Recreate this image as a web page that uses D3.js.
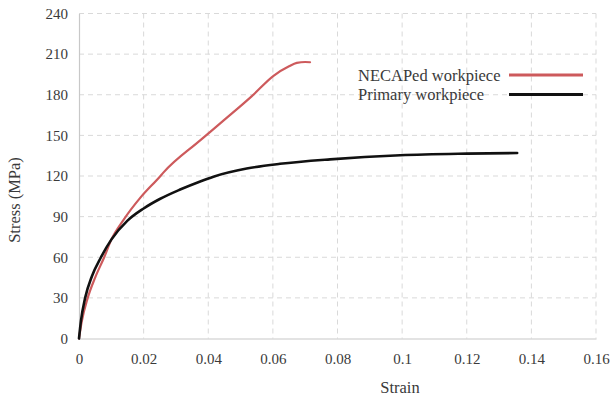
<!DOCTYPE html>
<html>
<head>
<meta charset="utf-8">
<script src="https://cdn.jsdelivr.net/npm/d3@7"></script>
<style>
  body { margin: 0; background: #fff; }
</style>
</head>
<body>
<svg id="chart" width="611" height="399"></svg>
<script>
// strain / stress (MPa)
const necapedStrain = [0, 0.0008, 0.0027, 0.005, 0.0078, 0.0100, 0.0139, 0.019, 0.025, 0.0261, 0.0375, 0.0455, 0.0535, 0.0602, 0.065, 0.0674, 0.0700, 0.0715]
const necapedStress = [0, 12, 30, 45, 60, 73, 88, 104, 119.5, 122.5, 146.3, 162.5, 179, 194, 201, 203.5, 204.2, 204]

const primaryStrain = [0, 0.0006, 0.0019, 0.004, 0.0068, 0.010, 0.015, 0.02, 0.025, 0.0313, 0.0375, 0.0416, 0.0519, 0.0622, 0.0777, 0.0994, 0.12, 0.1356]
const primaryStress = [0, 13, 30, 46, 60, 73, 87, 96, 103, 110, 116, 119.5, 125.5, 129, 132.3, 135.3, 136.5, 137]

const xTicks = [0, 0.02, 0.04, 0.06, 0.08, 0.1, 0.12, 0.14, 0.16]
const yTicks = [0, 30, 60, 90, 120, 150, 180, 210, 240]

const seriesNames = ['NECAPed workpiece', 'Primary workpiece']
const seriesColors = ['#cd5a5c', '#111111']

const series = [
    { name: seriesNames[0], color: seriesColors[0], width: 2.2,
      values: necapedStrain.map((s, i) => [s, necapedStress[i]]) },
    { name: seriesNames[1], color: seriesColors[1], width: 2.6,
      values: primaryStrain.map((s, i) => [s, primaryStress[i]]) },
]

const font = "'Liberation Serif', 'Times New Roman', Times, 'DejaVu Serif', serif"

const svg = d3.select('#chart').attr('font-family', font)
const margin = { top: 13.5, right: 15, bottom: 60.5, left: 79 }
const width = 611 - margin.left - margin.right
const height = 399 - margin.top - margin.bottom

const g = svg.append('g').attr('transform', `translate(${margin.left},${margin.top})`)

const x = d3.scaleLinear().domain([0, 0.16]).range([0, width])
const y = d3.scaleLinear().domain([0, 240]).range([height, 0])

// dashed grid
g.append('g')
    .selectAll('line')
    .data(yTicks.slice(1))
    .join('line')
    .attr('x1', 0)
    .attr('x2', width)
    .attr('y1', (d) => y(d))
    .attr('y2', (d) => y(d))
    .attr('stroke', '#d9d9d9')
    .attr('stroke-dasharray', '5,4')

g.append('g')
    .selectAll('line')
    .data(xTicks.slice(1))
    .join('line')
    .attr('x1', (d) => x(d))
    .attr('x2', (d) => x(d))
    .attr('y1', 0)
    .attr('y2', height)
    .attr('stroke', '#d9d9d9')
    .attr('stroke-dasharray', '5,4')

// axes
const xAxis = d3.axisBottom(x).tickValues(xTicks).tickSize(0).tickPadding(15)
    .tickFormat((d) => (d === 0 ? '0' : String(+d.toFixed(2))))
const gx = g.append('g').attr('transform', `translate(0,${height})`).call(xAxis)
    .attr('font-family', font).attr('font-size', 15)
gx.select('.domain').attr('stroke', '#c8c8c8').attr('stroke-width', 1.2)
gx.selectAll('text').attr('fill', '#3a3a3a')

const yAxis = d3.axisLeft(y).tickValues(yTicks).tickSize(0).tickPadding(11)
const gy = g.append('g').call(yAxis)
    .attr('font-family', font).attr('font-size', 15)
gy.select('.domain').attr('stroke', '#c8c8c8').attr('stroke-width', 1.2)
gy.selectAll('text').attr('fill', '#3a3a3a')

// curves
const line = d3.line()
    .x((d) => x(d[0]))
    .y((d) => y(d[1]))
    .curve(d3.curveMonotoneX)

g.selectAll('.curve')
    .data(series)
    .join('path')
    .attr('class', 'curve')
    .attr('fill', 'none')
    .attr('stroke', (d) => d.color)
    .attr('stroke-width', (d) => d.width)
    .attr('stroke-linecap', 'round')
    .attr('d', (d) => line(d.values))

// axis titles
svg.append('text')
    .attr('x', 400)
    .attr('y', 393)
    .attr('text-anchor', 'middle')
    .attr('font-size', 16.5)
    .attr('fill', '#3a3a3a')
    .text('Strain')

svg.append('text')
    .attr('transform', 'translate(20,200) rotate(-90)')
    .attr('text-anchor', 'middle')
    .attr('font-size', 16.5)
    .attr('fill', '#3a3a3a')
    .text('Stress (MPa)')

// legend
const legend = svg.append('g').attr('transform', 'translate(358,75)')
legend.selectAll('text')
    .data(series)
    .join('text')
    .attr('x', 0)
    .attr('y', (d, i) => i * 19.5 + 5.5)
    .attr('font-size', 16.5)
    .attr('fill', '#3a3a3a')
    .text((d) => d.name)
legend.selectAll('line')
    .data(series)
    .join('line')
    .attr('x1', 151)
    .attr('x2', 225)
    .attr('y1', (d, i) => i * 19.5)
    .attr('y2', (d, i) => i * 19.5)
    .attr('stroke', (d) => d.color)
    .attr('stroke-width', (d) => d.width + 0.6)
</script>
</body>
</html>
